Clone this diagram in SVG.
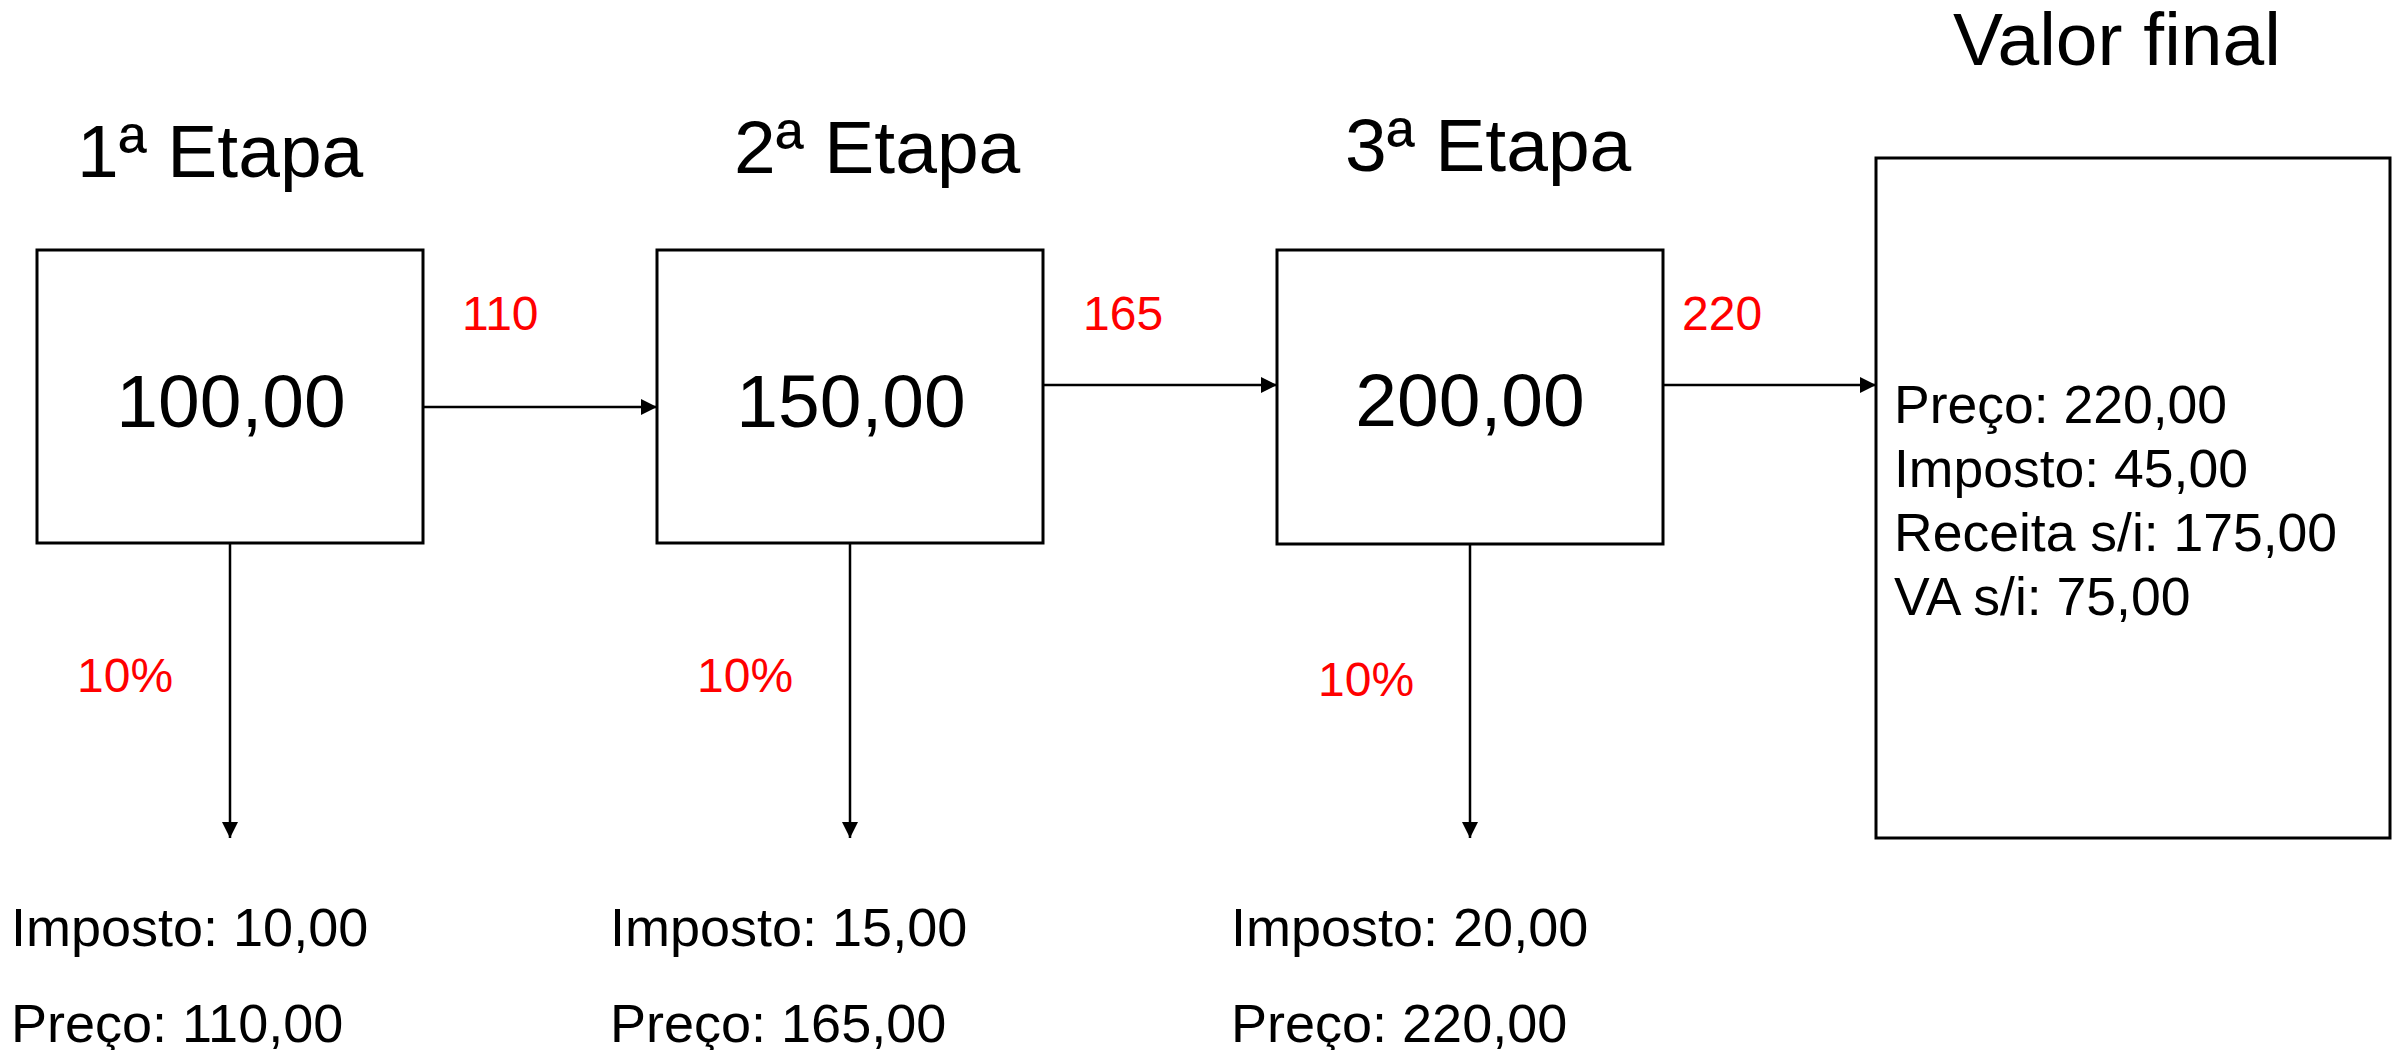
<svg xmlns="http://www.w3.org/2000/svg" width="2405" height="1050" viewBox="0 0 2405 1050">
  <style>
    text { font-family: "Liberation Sans", Arial, sans-serif; fill: #000; }
    .title { font-size: 75px; }
    .value { font-size: 75px; text-anchor: middle; }
    .red { fill: #ff0000; }
    .flow { font-size: 48px; }
    .rate { font-size: 48px; }
    .out { font-size: 54px; }
    .final { font-size: 53.5px; }
    .box { fill: #fff; stroke: #000; stroke-width: 3; }
    .edge { fill: none; stroke: #000; stroke-width: 2.5; marker-end: url(#arrow); }
  </style>
  <defs>
    <marker id="arrow" markerUnits="userSpaceOnUse" markerWidth="17" markerHeight="16" refX="16" refY="8" orient="auto">
      <path d="M0,0 L16,8 L0,16 Z" fill="#000"/>
    </marker>
  </defs>
  <rect width="2405" height="1050" fill="#fff"/>

  <!-- stage titles -->
  <text class="title" x="77" y="177">1ª Etapa</text>
  <text class="title" x="734" y="173">2ª Etapa</text>
  <text class="title" x="1345" y="171">3ª Etapa</text>
  <text class="title" x="1953" y="65">Valor final</text>

  <!-- connectors -->
  <g id="connectors">
    <line class="edge" x1="423" y1="407" x2="657" y2="407"/>
    <line class="edge" x1="1043" y1="385" x2="1277" y2="385"/>
    <line class="edge" x1="1663" y1="385" x2="1876" y2="385"/>
    <line class="edge" x1="230" y1="543" x2="230" y2="838"/>
    <line class="edge" x1="850" y1="543" x2="850" y2="838"/>
    <line class="edge" x1="1470" y1="544" x2="1470" y2="838"/>
    <text class="flow red" x="462" y="330">110</text>
    <text class="flow red" x="1083" y="330">165</text>
    <text class="flow red" x="1682" y="330">220</text>
    <text class="rate red" x="77" y="692">10%</text>
    <text class="rate red" x="697" y="692">10%</text>
    <text class="rate red" x="1318" y="696">10%</text>
  </g>

  <!-- stage 1 -->
  <g id="stage1">
    <rect class="box" x="37" y="250" width="386" height="293"/>
    <text class="value" x="231" y="427">100,00</text>
  </g>
  <!-- stage 2 -->
  <g id="stage2">
    <rect class="box" x="657" y="250" width="386" height="293"/>
    <text class="value" x="851" y="427">150,00</text>
  </g>
  <!-- stage 3 -->
  <g id="stage3">
    <rect class="box" x="1277" y="250" width="386" height="294"/>
    <text class="value" x="1470" y="426">200,00</text>
  </g>
  <!-- final value -->
  <g id="final">
    <rect class="box" x="1876" y="158" width="514" height="680"/>
    <text class="final" x="1894" y="423">Preço: 220,00</text>
    <text class="final" x="1894" y="487">Imposto: 45,00</text>
    <text class="final" x="1894" y="551">Receita s/i: 175,00</text>
    <text class="final" x="1894" y="615">VA s/i: 75,00</text>
  </g>

  <!-- tax outputs -->
  <g id="tax1">
    <text class="out" x="11" y="946">Imposto: 10,00</text>
    <text class="out" x="11" y="1042">Preço: 110,00</text>
  </g>
  <g id="tax2">
    <text class="out" x="610" y="946">Imposto: 15,00</text>
    <text class="out" x="610" y="1042">Preço: 165,00</text>
  </g>
  <g id="tax3">
    <text class="out" x="1231" y="946">Imposto: 20,00</text>
    <text class="out" x="1231" y="1042">Preço: 220,00</text>
  </g>
</svg>
